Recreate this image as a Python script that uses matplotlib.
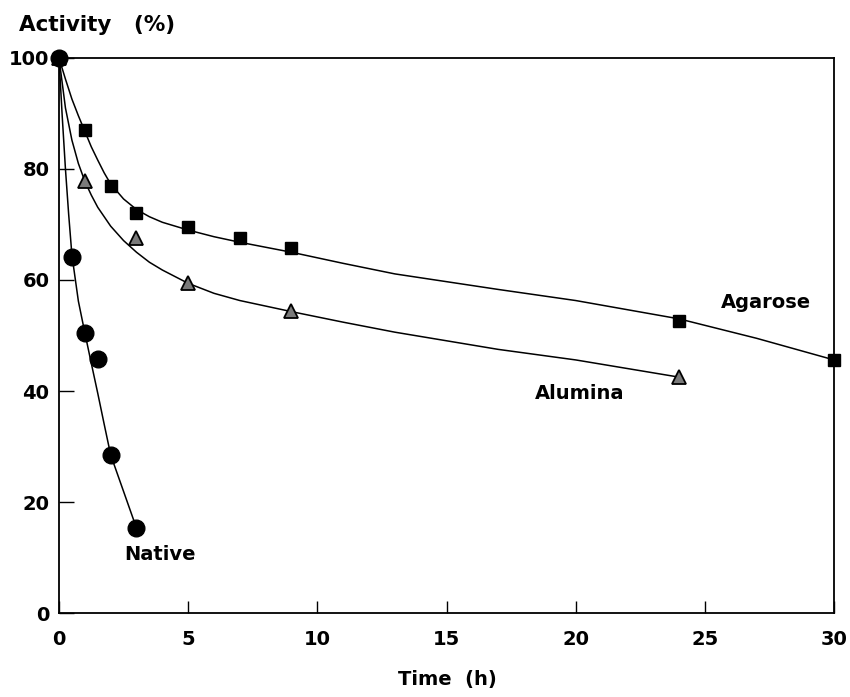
import numpy as np
import matplotlib
matplotlib.use("Agg")
import matplotlib.pyplot as plt

# measured points
agarose_t = [0, 1, 2, 3, 5, 7, 9, 24, 30]
agarose_v = [100, 87, 77, 72, 69.5, 67.6, 65.8, 52.6, 45.5]
alumina_t = [0, 1, 3, 5, 9, 24]
alumina_v = [100, 77.8, 67.6, 59.5, 54.4, 42.5]
native_t = [0, 0.5, 1, 1.5, 2, 3]
native_v = [100, 64.2, 50.5, 45.8, 28.5, 15.3]

# fitted curves
agarose_fit_t = [0, 0.25, 0.5, 0.75, 1, 1.25, 1.5, 1.75, 2, 2.5, 3, 3.5, 4, 5, 6, 7, 9, 11, 13, 17, 20, 24, 27, 30]
agarose_fit_v = [100, 96.2, 92.6, 89.6, 86.8, 84, 81.6, 79.3, 77.3, 74.6, 72.7, 71.4, 70.4, 69, 67.8, 66.8, 65, 63, 61.1, 58.3, 56.3, 53, 49.5, 45.6]
alumina_fit_t = [0, 0.25, 0.5, 0.75, 1, 1.25, 1.5, 2, 2.5, 3, 3.5, 4, 5, 6, 7, 9, 11, 13, 17, 20, 24]
alumina_fit_v = [100, 91, 85.2, 81, 77.8, 75.3, 73.1, 69.7, 67.1, 65, 63.2, 61.8, 59.4, 57.6, 56.3, 54.3, 52.4, 50.6, 47.5, 45.6, 42.5]
native_fit_t = [0, 0.125, 0.25, 0.375, 0.5, 0.75, 1, 1.25, 1.5, 1.75, 2, 2.5, 3]
native_fit_v = [100, 89.5, 80, 71.8, 64.5, 56.2, 50.5, 45, 39.6, 34, 28.5, 21.9, 15.3]

plt.rcParams['font.family'] = ['DejaVu Sans']
plt.rcParams['font.weight'] = 'bold'
fs = 14

fig = plt.figure(figsize=(8.5, 6.97), dpi=100)
ax = fig.add_axes([0.0694, 0.1205, 0.9118, 0.7963])

lw = 1.1
ax.plot(agarose_fit_t, agarose_fit_v, color='black', lw=lw)
ax.plot(alumina_fit_t, alumina_fit_v, color='black', lw=lw)
ax.plot(native_fit_t, native_fit_v, color='black', lw=lw)

ax.plot(agarose_t, agarose_v, 's', color='black', ms=8, clip_on=False, zorder=5)
ax.plot(alumina_t, alumina_v, '^', mfc='#7a7a7a', mec='black', mew=1.3, ms=10, clip_on=False, zorder=5)
ax.plot(native_t, native_v, 'o', color='black', ms=12, clip_on=False, zorder=6)

ax.set_xlim(0, 30)
ax.set_ylim(0, 100)
ax.set_xticks([0, 5, 10, 15, 20, 25, 30])
ax.set_yticks([0, 20, 40, 60, 80, 100])
ax.tick_params(axis='y', direction='in', length=11, width=1, labelsize=fs, pad=7)
ax.tick_params(axis='x', direction='in', length=8.5, width=1, labelsize=fs, pad=12)
for lab in ax.get_xticklabels() + ax.get_yticklabels():
    lab.set_fontweight('bold')
for s in ax.spines.values():
    s.set_linewidth(1.3)

fig.text(19 / 850, 1 - 25 / 697, 'Activity   (%)', fontsize=15.5, fontweight='bold',
         ha='left', va='center')
fig.text(447 / 850, 1 - 680 / 697, 'Time  (h)', fontsize=fs, fontweight='bold',
         ha='center', va='center')

ax.text(27.36, 56, 'Agarose', fontsize=fs, fontweight='bold', ha='center', va='center')
ax.text(20.16, 39.5, 'Alumina', fontsize=fs, fontweight='bold', ha='center', va='center')
ax.text(3.9, 10.5, 'Native', fontsize=fs, fontweight='bold', ha='center', va='center')

fig.savefig('out.png', dpi=100)
